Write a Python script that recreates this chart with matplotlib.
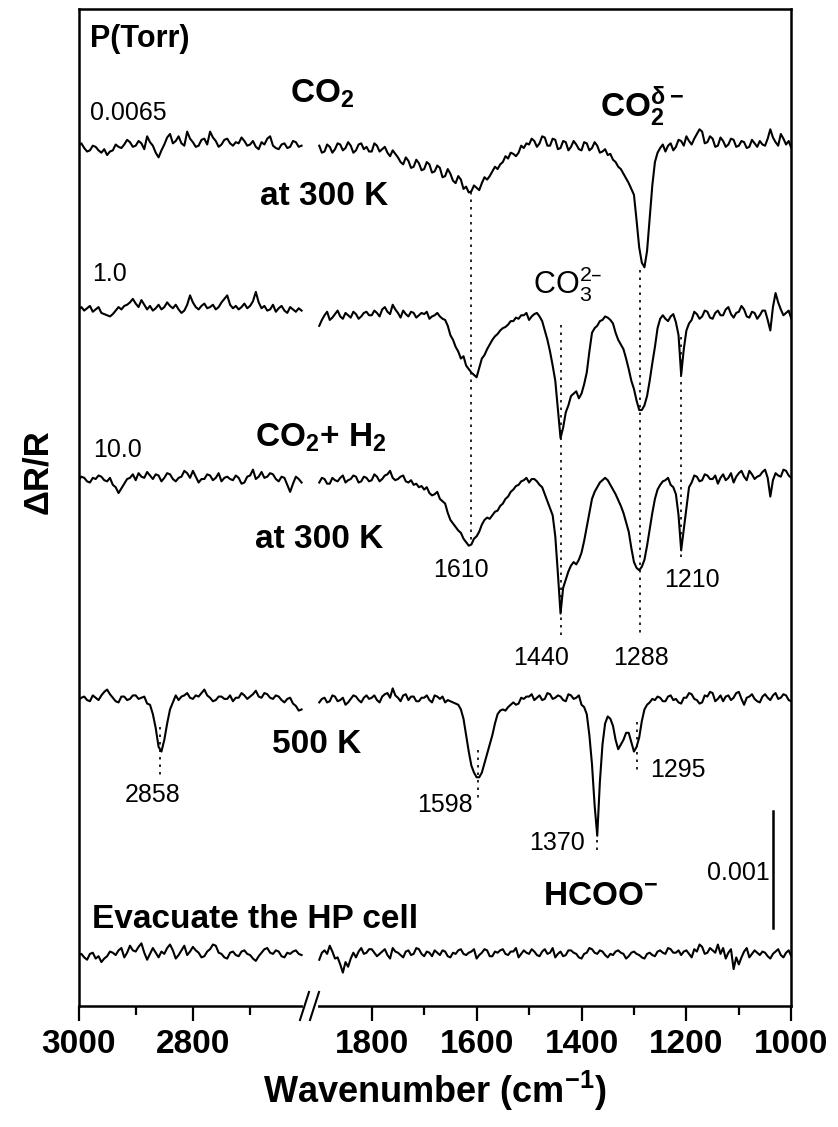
import numpy as np
import matplotlib.pyplot as plt

plt.rcParams['font.family'] = ['Liberation Sans', 'DejaVu Sans']
plt.rcParams['mathtext.default'] = 'regular'

# y values in units of 1e-5 (dR/R); spectra are offset for display
WN_LEFT = np.arange(3000, 2605, -5)
WN_RIGHT = np.arange(1900, 995, -5)

s1_left = [2, 4, 0, -3, -2, 2, 1, -2, -4, -1,
           -6, -3, -2, 3, 1, 0, 3, 7, 5, 1,
           2, 6, 4, -1, 10, 5, 2, -4, -8, -2,
           3, 9, 12, 4, 6, 10, 4, 2, 14, 8,
           5, 1, 2, 7, 8, 3, 14, 9, 6, 1,
           3, 7, 8, 4, 2, 5, 4, 9, 6, 2,
           3, 6, 1, -1, 5, 3, 8, 10, 2, 0,
           -1, 3, 4, 0, 1, 6, 5, 1, 2]
s1_right = [2, -4, -3, 3, 1, -4, -1, 4, 3, -2,
            0, 5, 2, -4, -2, 3, 4, -1, 1, -3,
            -3, 4, 2, -3, -1, 1, -4, -7, -2, -5,
            -8, -12, -14, -8, -11, -17, -16, -10, -13, -19,
            -18, -12, -14, -21, -20, -15, -17, -25, -24, -18,
            -22, -28, -30, -24, -27, -35, -33, -38, -37, -32,
            -34, -36, -30, -25, -27, -24, -20, -16, -18, -14,
            -12, -7, -9, -4, -5, -7, -4, 2, 0, 4,
            3, 8, 6, 1, 4, 10, 9, 2, 2, 8,
            7, -1, 0, 6, 5, -2, 1, 6, 3, -1,
            -2, 5, 4, -2, 0, 5, 2, -4, -3, -1,
            -6, -5, -10, -12, -16, -18, -22, -26, -30, -35,
            -40, -62, -85, -98, -102, -88, -60, -32, -12, -4,
            0, 3, -3, 2, 4, -2, 1, 7, 6, 2,
            10, 6, 3, 8, 12, 16, 14, 4, 5, 10,
            8, 1, 2, 9, 6, 1, 3, 8, 7, 1,
            2, 6, 5, 0, 1, 7, 4, 1, 6, 3,
            2, 8, 16, 9, 5, 2, 12, 8, 3, 6,
            0]

s2_left = [6, 8, 5, 7, 9, 4, 6, 8, 3, 2,
           1, 0, 2, 5, 8, 6, 9, 10, 12, 15,
           11, 8, 14, 10, 6, 9, 5, 7, 10, 6,
           8, 12, 9, 7, 10, 6, 3, 5, 10, 18,
           12, 8, 6, 9, 11, 7, 8, 10, 6, 8,
           12, 15, 18, 10, 7, 9, 6, 8, 11, 7,
           9, 13, 21, 12, 7, 9, 5, 6, 10, 4,
           7, 9, 5, 3, 8, 6, 4, 7, 5]
s2_right = [-8, -3, 1, 4, -3, -1, 2, 5, 0, -2,
            3, 1, -1, 4, 2, -2, 0, 3, 4, 1,
            1, 5, 3, 0, 6, 8, 4, 2, 10, 6,
            3, -1, 5, 2, 0, 4, 3, -1, 1, 3,
            2, 4, -2, 0, 1, 3, 0, -2, -3, -8,
            -16, -20, -26, -30, -36, -34, -42, -45, -48, -50,
            -52, -44, -36, -33, -28, -24, -20, -17, -15, -12,
            -10, -9, -7, -4, -4, -1, -2, 1, 1, 3,
            -3, 0, 2, 3, 0, -4, -12, -20, -30, -42,
            -55, -80, -104, -95, -82, -76, -68, -66, -64, -70,
            -66, -58, -48, -30, -14, -10, -8, -4, -3, 0,
            -1, -3, -6, -14, -20, -24, -28, -36, -45, -55,
            -62, -72, -80, -80, -76, -68, -55, -40, -26, -10,
            -2, 1, -2, -4, 0, 2, -5, -16, -50, -28,
            -12, -6, -3, 4, 2, -2, 0, 5, 4, -1,
            -2, 3, 5, 1, 1, 6, 8, 2, -1, 3,
            4, 9, 6, 0, -1, 4, 3, -2, 1, 5,
            5, -3, -12, 8, 20, 12, 6, 1, 3, 5,
            -2]

s3_left = [0, 3, 2, -1, -2, 2, 1, 4, 3, 0,
           -1, 2, -4, -6, -11, -7, -3, 1, 2, 5,
           0, 6, 3, 2, 7, 4, 1, 5, 4, -1,
           2, 6, 5, 1, -1, 2, 3, 8, 6, 2,
           8, 3, -2, 1, 1, 5, 4, 0, 2, 6,
           -1, 2, 3, 1, 0, 4, 2, -3, -2, 3,
           4, 9, 1, 3, 7, 2, 3, 6, 5, 1,
           -1, 3, 2, -4, -10, -3, 3, 1, -2]
s3_right = [-2, 2, 1, -3, -3, 2, 0, -1, 2, 4,
            -2, 0, 1, 4, 3, -2, -1, 3, 2, -1,
            0, 5, 3, -1, 1, 4, 5, 8, 2, 0,
            1, 3, 4, -1, -2, 0, -4, -3, -6, -5,
            -8, -6, -11, -13, -12, -10, -16, -18, -20, -28,
            -34, -37, -40, -43, -45, -50, -53, -56, -55, -50,
            -48, -44, -38, -34, -32, -33, -30, -27, -26, -22,
            -20, -16, -14, -10, -8, -5, -4, -1, 0, 2,
            -2, 1, 1, -1, -4, -6, -12, -18, -24, -30,
            -48, -80, -114, -92, -85, -78, -73, -70, -72, -68,
            -62, -52, -40, -28, -16, -10, -6, -2, 0, 2,
            0, -4, -8, -12, -17, -22, -28, -36, -44, -58,
            -70, -75, -77, -74, -68, -56, -42, -28, -16, -8,
            -4, -1, 0, 2, -4, -6, -12, -30, -60, -42,
            -24, -6, -2, 4, 3, -1, 0, 5, 4, 1,
            1, 4, -3, 2, 5, 0, 2, 6, -2, 3,
            6, 8, 3, 0, 8, 5, 1, 3, 4, 7,
            9, 2, -14, 0, 6, 4, 3, 9, 8, 4,
            2]

s4_left = [0, 2, 3, 0, -1, 4, 2, 0, 4, 7,
           9, 5, 2, -1, -2, 3, 3, 0, 1, 4,
           4, 1, 2, 3, -3, -4, -12, -24, -40, -44,
           -34, -20, -8, -2, 4, 0, 3, 4, 6, 2,
           1, 4, 3, 6, 9, 4, 2, -1, 0, 3,
           3, 1, 1, 4, -1, 2, 2, 6, 4, 1,
           3, 5, 8, 3, 2, 6, 5, 2, 1, 4,
           3, 0, -2, 1, 2, -3, -5, -9, -8]
s4_right = [-2, 1, 2, -2, -1, 4, 3, -1, 0, 2,
            -4, -2, 1, 4, 3, 0, -2, 2, 4, 1,
            2, 4, 0, -2, 3, 5, 6, 2, 10, 4,
            2, -1, 4, 5, 0, 3, 3, -1, -1, 2,
            2, 4, 0, -2, 4, 3, 1, 3, -2, 0,
            -1, -2, -3, -4, -8, -16, -30, -44, -56, -62,
            -66, -66, -62, -54, -46, -38, -30, -20, -12, -9,
            -8, -9, -6, -4, -2, -4, -3, 2, 1, 3,
            3, 5, 0, 2, 4, 0, 1, 6, 5, 1,
            2, 4, 3, 0, -1, 5, 4, 1, 2, 4,
            -4, -6, -12, -30, -55, -90, -116, -70, -38, -20,
            -14, -16, -22, -34, -42, -38, -34, -28, -28, -36,
            -44, -40, -32, -18, -8, -4, -2, 1, 0, 3,
            2, -1, -1, 3, 4, 0, 1, -2, -3, 2,
            2, 6, 5, 1, 0, -3, -2, 4, 3, 7,
            6, -1, 1, 4, -1, 3, 4, 0, 2, 6,
            7, 1, -4, 2, 3, 5, 1, -1, -2, 3,
            5, 2, 0, 4, 6, 1, 2, 5, 4, 0,
            -1]

s5_left = [0, 1, -2, -4, 1, 2, -3, -1, -6, -3,
           -1, 3, 2, 0, 4, 6, -2, 2, 8, 4,
           3, 7, 10, 2, -4, 1, 6, 2, -2, 3,
           1, 6, 9, 4, -3, 0, 4, 8, 0, 3,
           7, 4, 2, -2, -1, 3, 5, 9, 8, 2,
           1, -2, -3, 2, 3, 0, -1, 3, 4, 1,
           0, -3, -5, -1, 2, 5, 6, 2, 1, 4,
           3, -1, -2, 2, 1, 3, 4, 1, 0]
s5_right = [-4, 2, 4, 1, 8, 3, -3, -2, -8, -15,
            -6, -10, -3, 2, -2, 3, 6, 1, 2, 5,
            5, 2, -1, 1, 3, 5, 0, -3, 6, 3,
            2, 0, -2, 3, 4, 0, 1, 6, 5, 1,
            -1, 3, 2, -1, 4, 2, 0, 4, 3, -1,
            -2, 2, 1, 4, 5, 1, 0, 2, 3, 5,
            -3, 0, 2, 5, 4, -1, -1, 3, 2, 4,
            5, 1, 0, 3, 3, 6, -2, 1, 4, 2,
            1, 5, 3, 0, -1, 3, 5, 1, 2, 6,
            -2, 1, 3, -1, 0, 4, 4, 2, 1, -2,
            -3, 1, 2, 6, 5, 2, 1, 4, 3, 0,
            -2, 1, 0, 3, 4, 2, 1, -3, -1, 2,
            3, 1, 0, -2, -3, 1, 2, 0, -1, 3,
            4, 2, 1, 6, 5, 2, 2, 4, 0, 3,
            4, 1, -2, 5, 3, 9, 7, 1, 2, 6,
            4, 2, 9, 1, 6, -3, 2, 5, -12, -2,
            -8, -2, 3, 6, -2, 1, 4, 2, 0, 3,
            2, -1, -3, 1, 3, 5, 0, -2, 2, 4,
            -1]

spectra_left = [s1_left, s2_left, s3_left, s4_left, s5_left]
spectra_right = [s1_right, s2_right, s3_right, s4_right, s5_right]
offsets = [0, -144, -284, -472, -690]

major_ticks = [3000, 2800, 1800, 1600, 1400, 1200, 1000]
minor_ticks = [2900, 2700, 1700, 1500, 1300, 1100]

# broken x axis: piecewise linear scale (3000-2600 and 1915-1000)
wk = np.array([1000, 1915, 2600, 3000])
uk = np.array([-791.3, -311.4, -307.3, -78.5])


def fwd(w):
    w = np.asarray(w, float)
    u = np.interp(w, wk, uk)
    u = np.where(w < wk[0], uk[0] + (w - wk[0]) * 0.5245, u)
    u = np.where(w > wk[-1], uk[-1] + (w - wk[-1]) * 0.572, u)
    return u


def inv(u):
    u = np.asarray(u, float)
    w = np.interp(u, uk, wk)
    w = np.where(u < uk[0], wk[0] + (u - uk[0]) / 0.5245, w)
    w = np.where(u > uk[-1], wk[-1] + (u - uk[-1]) / 0.572, w)
    return w


fig = plt.figure(figsize=(8.38, 11.27), dpi=100)
ax = fig.add_axes([78.5 / 838, (1127 - 1005.7) / 1127, 712.8 / 838, 996.4 / 1127])
ax.set_xscale('function', functions=(fwd, inv))

for sl, sr, off in zip(spectra_left, spectra_right, offsets):
    ax.plot(WN_LEFT, np.array(sl) + off, color='black', lw=1.5)
    ax.plot(WN_RIGHT, np.array(sr) + off, color='black', lw=1.5)

ax.set_xlim(3000, 1000)
ax.set_ylim(-733.3, 118.6)

# dotted guide lines
dots = dict(color='black', lw=1.2, linestyle=(0, (1.5, 3)))
ax.plot([1610, 1610], [-38, -338], **dots)
ax.plot([1288, 1288], [-104, -418], **dots)
ax.plot([1440, 1440], [-151, -419], **dots)
ax.plot([1210, 1210], [-162, -350], **dots)
ax.plot([1598, 1598], [-515, -557], **dots)
ax.plot([1370, 1370], [-592, -602], **dots)
ax.plot([1295, 1295], [-491, -532], **dots)
ax.plot([2858, 2858], [-495, -536], **dots)

# scale bar 0.001 = 100 units
ax.plot([1035, 1035], [-567, -667], color='black', lw=1.8)

big = dict(fontsize=24, fontweight='bold', va='baseline')
num = dict(fontsize=18, va='baseline')
ax.text(2980, 86, 'P(Torr)', fontsize=22, fontweight='bold', va='baseline')
ax.text(2980, 24, '0.0065', **num)
ax.text(2630, 38.5, r'CO$_2$', **big)
ax.text(2682, -48.7, 'at 300 K', **big)
ax.text(1365, 26.5, r'CO$_2^{\delta-}$', **big)
ax.text(2976, -113.7, '1.0', **num)
ax.text(1492, -124, 'CO$_3^{2\u2013}$', fontsize=22, va='baseline')
ax.text(2975, -264, '10.0', **num)
ax.text(2691, -255.6, r'CO$_2$+ H$_2$', **big)
ax.text(2691, -342, 'at 300 K', **big)
ax.text(1630, -367, '1610', ha='center', **num)
ax.text(1190, -375, '1210', ha='center', **num)
ax.text(1477, -442, '1440', ha='center', **num)
ax.text(1287, -442, '1288', ha='center', **num)
ax.text(2662, -517, '500 K', **big)
ax.text(2870, -559, '2858', ha='center', **num)
ax.text(1660, -568, '1598', ha='center', **num)
ax.text(1216, -538, '1295', ha='center', **num)
ax.text(1447, -600, '1370', ha='center', **num)
ax.text(1474, -647, r'HCOO$^{-}$', **big)
ax.text(1041, -626, '0.001', ha='right', **num)
ax.text(2976, -667, 'Evacuate the HP cell', **big)

# axes styling
for s in ax.spines.values():
    s.set_linewidth(1.8)
ax.set_yticks([])
ax.set_xticks(major_ticks)
ax.set_xticklabels([str(t) for t in major_ticks])
ax.set_xticks(minor_ticks, minor=True)
ax.tick_params(axis='x', which='major', direction='out', length=11, width=1.6,
               labelsize=24, pad=6)
ax.tick_params(axis='x', which='minor', direction='out', length=6.5, width=1.6)
for lbl in ax.get_xticklabels():
    lbl.set_fontweight('bold')

ax.set_xlabel(r'Wavenumber (cm$^{-1}$)', fontsize=26, fontweight='bold', labelpad=6)
fig.text(38 / 838, 1 - 472 / 1127, '\u0394R/R', rotation=90, ha='center',
         va='center', fontsize=25, fontweight='bold')


# axis break marks
def axfx(px):
    return (px - 78.5) / 712.8


def axfy(py):
    return (1005.7 - py) / 996.4


ax.plot([axfx(305), axfx(316)], [0, 0], color='white', lw=3,
        transform=ax.transAxes, clip_on=False, zorder=5)
for x0 in (300, 310):
    ax.plot([axfx(x0), axfx(x0 + 9)], [axfy(1020), axfy(992)], color='black',
            lw=1.5, transform=ax.transAxes, clip_on=False, zorder=6)

fig.savefig('out.png', dpi=100)
